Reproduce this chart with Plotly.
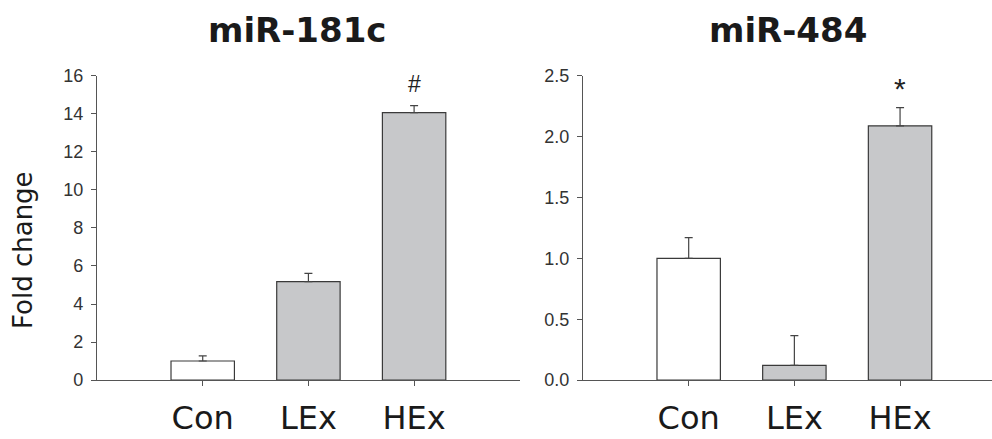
import plotly.graph_objects as go

categories = ["Con", "LEx", "HEx"]
mir181c_values = [1.0, 5.18, 14.07]
mir181c_errors = [0.27, 0.43, 0.37]
mir484_values = [1.0, 0.12, 2.09]
mir484_errors = [0.17, 0.245, 0.15]
bar_colors = ["#ffffff", "#c7c8ca", "#c7c8ca"]
titles = ["miR-181c", "miR-484"]
marks = ["#", "*"]

fig = go.Figure()

for i, (vals, errs) in enumerate([(mir181c_values, mir181c_errors), (mir484_values, mir484_errors)]):
    xa = "x" if i == 0 else "x2"
    ya = "y" if i == 0 else "y2"
    fig.add_trace(go.Bar(
        x=categories, y=vals, xaxis=xa, yaxis=ya,
        width=0.6,
        marker=dict(color=bar_colors, line=dict(color="#3a3a3a", width=1.2)),
        error_y=dict(type="data", symmetric=False, array=errs, arrayminus=[0] * len(errs),
                     color="#444444", thickness=1.2, width=4),
        showlegend=False, hoverinfo="skip",
    ))

common_x = dict(
    showline=True, linecolor="#555555", linewidth=1.2,
    ticks="outside", ticklen=5, tickcolor="#555555", tickwidth=1.2,
    tickfont=dict(family="DejaVu Sans", size=32, color="#1a1a1a"),
    ticklabelstandoff=5, automargin=False,
    showgrid=False, zeroline=False, categoryorder="array", categoryarray=categories,
)
common_y = dict(
    showline=True, linecolor="#555555", linewidth=1.2,
    ticks="outside", ticklen=5, tickcolor="#555555", tickwidth=1.2,
    tickfont=dict(family="Liberation Sans", size=18, color="#333333"),
    ticklabelstandoff=4, automargin=False,
    showgrid=False, zeroline=False,
)

fig.update_layout(
    width=992, height=439,
    margin=dict(l=0, r=0, t=0, b=0, autoexpand=False),
    paper_bgcolor="white", plot_bgcolor="white",
    xaxis=dict(domain=[0.0978, 0.524], range=[-1.0, 3.0], anchor="y", **common_x),
    xaxis2=dict(domain=[0.5877, 1.0], range=[-1.0, 2.87], anchor="y2", **common_x),
    yaxis=dict(domain=[0.1344, 0.8269], range=[0, 16], dtick=2, anchor="x",
               tickformat="d", **common_y),
    yaxis2=dict(domain=[0.1344, 0.8269], range=[0, 2.5], dtick=0.5, anchor="x2",
                tickformat=".1f", **common_y),
    bargap=0.4,
)

fig.add_annotation(text="<b>" + titles[0] + "</b>", xref="paper", yref="paper",
                   x=297 / 992, y=1 - 30 / 439, showarrow=False,
                   font=dict(family="DejaVu Sans", size=34, color="#1a1a1a"),
                   xanchor="center", yanchor="middle")
fig.add_annotation(text="<b>" + titles[1] + "</b>", xref="paper", yref="paper",
                   x=788 / 992, y=1 - 30 / 439, showarrow=False,
                   font=dict(family="DejaVu Sans", size=34, color="#1a1a1a"),
                   xanchor="center", yanchor="middle")

fig.add_annotation(text="Fold change", xref="paper", yref="paper",
                   x=23 / 992, y=1 - 250 / 439, showarrow=False, textangle=-90,
                   font=dict(family="DejaVu Sans", size=26, color="#1a1a1a"),
                   xanchor="center", yanchor="middle")

fig.add_annotation(text=marks[0], x=categories[2], y=15.6, xref="x", yref="y",
                   showarrow=False, font=dict(family="Liberation Sans", size=23, color="#222222"),
                   xanchor="center", yanchor="middle")
fig.add_annotation(text=marks[1], x=categories[2], y=2.40, xref="x2", yref="y2",
                   showarrow=False, font=dict(family="Liberation Sans", size=30, color="#222222"),
                   xanchor="center", yanchor="middle")

fig.write_html("out.html", config={"displayModeBar": False},
               post_script="document.body.style.margin='0';document.body.style.overflow='hidden';")
